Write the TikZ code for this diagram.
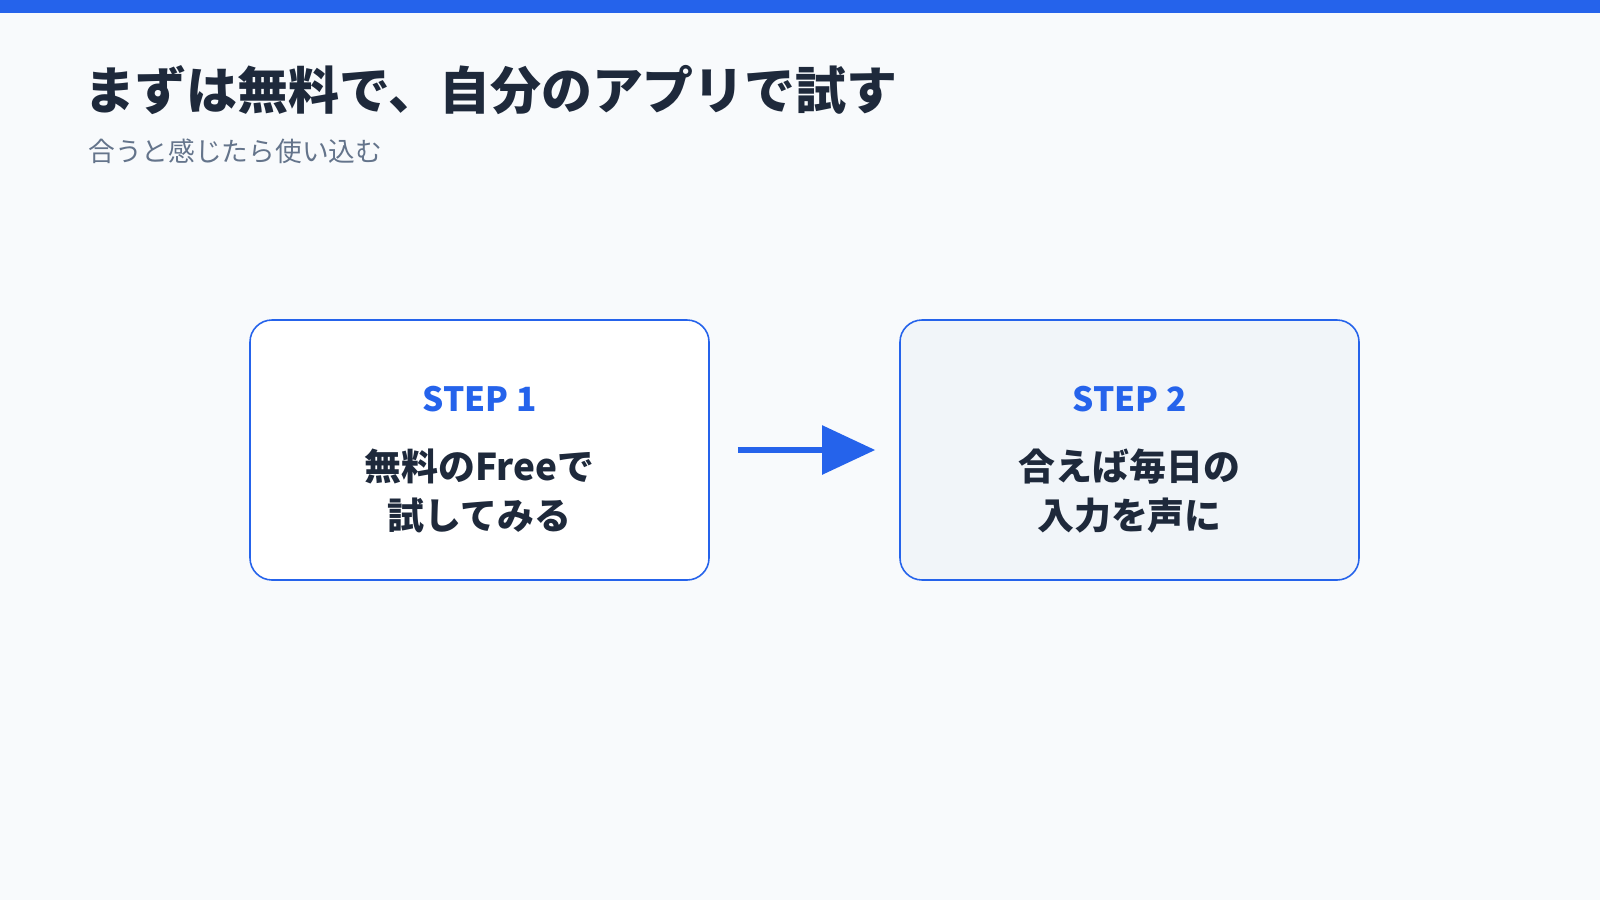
\documentclass[tikz,border=0pt]{standalone}
\usepackage{fontspec}
\setmainfont{Noto Sans CJK JP}
\usetikzlibrary{positioning,arrows.meta}
\definecolor{accent}{HTML}{2563EB}
\definecolor{bgcol}{HTML}{F8FAFC}
\definecolor{inkcol}{HTML}{1E293B}
\definecolor{subcol}{HTML}{64748B}
\definecolor{softfill}{HTML}{F1F5F9}
\tikzset{
  stepbox/.style={draw=accent,line width=0.45pt,rounded corners=0.22cm,minimum width=4.59cm,minimum height=2.6cm,fill=white},
  steplabel/.style={text=accent,font=\fontsize{9.5}{11}\selectfont\bfseries},
  stepbody/.style={text=inkcol,font=\fontsize{10.5}{14}\selectfont\bfseries,align=center}
}
\begin{document}
\begin{tikzpicture}
      \fill[bgcol] (0,0) rectangle (16,9);
      \useasboundingbox (0,0) rectangle (16,9);
      \fill[accent] (0,8.865) rectangle (16,9);
      % heading
      \node[anchor=west,text=inkcol,font=\fontsize{14.5}{16}\selectfont\bfseries] (title) at (0.72,8.1) {まずは無料で、自分のアプリで試す};
      \node[anchor=west,text=subcol,font=\fontsize{7.6}{9}\selectfont] (subtitle) at (0.76,7.49) {合うと感じたら使い込む};
      % steps
      \node[stepbox] (first) at (4.795,4.5) {};
      \node[stepbox,fill=softfill] (second) at (11.295,4.5) {};
      \node[steplabel] (firstlabel) at (4.795,5.01) {STEP 1};
      \node[steplabel] (secondlabel) at (11.295,5.01) {STEP 2};
      \node[stepbody] (firstbody) at (4.795,4.09) {無料のFreeで\\試してみる};
      \node[stepbody] (secondbody) at (11.295,4.09) {合えば毎日の\\入力を声に};
      \draw[accent,line width=1.6pt,-{Triangle[length=0.53cm,width=0.48cm]}] ([xshift=0.28cm]first.east) -- ([xshift=-0.24cm]second.west);
\end{tikzpicture}
\end{document}
